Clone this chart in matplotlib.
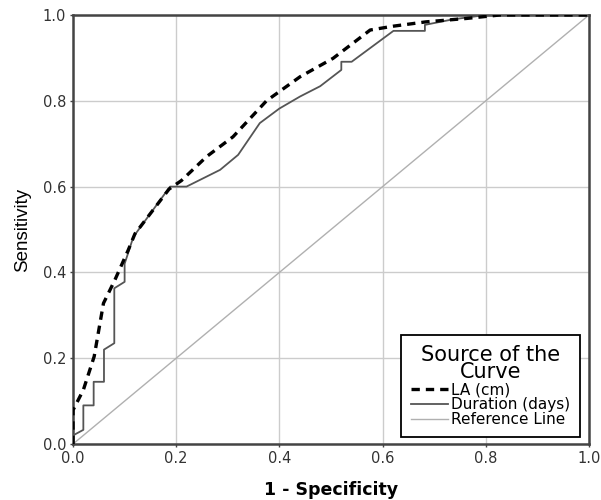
import matplotlib.pyplot as plt
import numpy as np

# ROC curve values
la_x = [0.0, 0.0, 0.02, 0.041, 0.059, 0.081, 0.107, 0.12, 0.186, 0.21, 0.259, 0.31, 0.375, 0.44, 0.504, 0.576, 0.621, 0.684, 0.763, 0.827, 1.0]
la_y = [0.0, 0.079, 0.126, 0.204, 0.328, 0.382, 0.452, 0.49, 0.594, 0.614, 0.67, 0.716, 0.80, 0.856, 0.899, 0.965, 0.974, 0.984, 0.992, 1.0, 1.0]

dur_x = [0.0, 0.0, 0.02, 0.02, 0.04, 0.04, 0.06, 0.06, 0.08, 0.08, 0.10, 0.10, 0.117, 0.188, 0.22, 0.285, 0.32, 0.362, 0.40, 0.44, 0.479, 0.52, 0.52, 0.54, 0.621, 0.682, 0.682, 0.737, 0.80, 1.0]
dur_y = [0.0, 0.02, 0.033, 0.09, 0.09, 0.145, 0.145, 0.22, 0.235, 0.363, 0.378, 0.42, 0.483, 0.60, 0.60, 0.639, 0.674, 0.748, 0.782, 0.81, 0.834, 0.872, 0.891, 0.891, 0.963, 0.963, 0.977, 0.99, 1.0, 1.0]

ref = [0.0, 1.0]
ticks = [0.0, 0.2, 0.4, 0.6, 0.8, 1.0]

fig = plt.figure(figsize=(6.01, 5.0), dpi=100)
ax = fig.add_axes([0.1215, 0.112, 0.8585, 0.858])

ax.plot(la_x, la_y, color='black', linestyle=(0, (2.5, 1.8)), linewidth=2.4, label='LA (cm)', zorder=4)
ax.plot(dur_x, dur_y, color='#555555', linewidth=1.3, label='Duration (days)', zorder=3)
ax.plot(ref, ref, color='#b0b0b0', linewidth=1.0, label='Reference Line', zorder=2)

ax.set_xlim(0, 1)
ax.set_ylim(0, 1)
ax.set_xticks(ticks)
ax.set_yticks(ticks)
ax.set_xticklabels([f'{t:.1f}' for t in ticks], family='DejaVu Sans', fontsize=10.5, color='#333333')
ax.set_yticklabels([f'{t:.1f}' for t in ticks], family='DejaVu Sans', fontsize=10.5, color='#333333')
ax.tick_params(length=2, width=1, color='#444444', pad=3)
ax.grid(True, color='#cccccc', linewidth=1.0)
ax.set_axisbelow(True)
for s in ax.spines.values():
    s.set_linewidth(1.8)
    s.set_color('#444444')

ax.set_xlabel('1 - Specificity', family='DejaVu Sans', fontsize=12.5, fontweight='bold', labelpad=11)
ax.set_ylabel('Sensitivity', family='Liberation Sans', fontsize=13.5, labelpad=8)

leg = ax.legend(loc='lower right', bbox_to_anchor=(0.9826, 0.016), borderaxespad=0,
                title='Source of the\nCurve',
                prop={'family': 'DejaVu Sans', 'size': 11}, frameon=True, fancybox=False,
                edgecolor='black', handlelength=2.4, handletextpad=0.2, labelspacing=0.0,
                borderpad=0.65)
leg.get_title().set_fontsize(15)
leg.get_title().set_family('DejaVu Sans')
leg.get_title().set_multialignment('center')
leg.get_title().set_linespacing(0.8)
leg.get_frame().set_linewidth(1.3)
leg.get_frame().set_alpha(1)

fig.savefig('out.png', dpi=100)
